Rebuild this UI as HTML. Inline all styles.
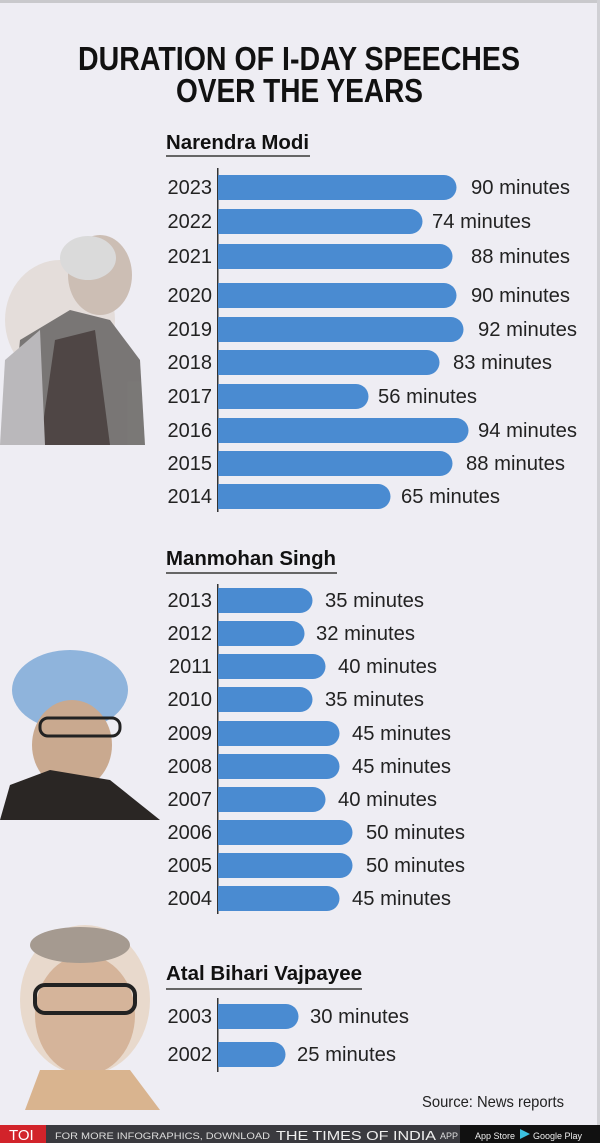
<!DOCTYPE html>
<html><head><meta charset="utf-8"><style>
html,body{margin:0;padding:0;background:#eeedf3}
svg{display:block}
text{font-family:"Liberation Sans Narrow","Liberation Sans",sans-serif}
</style></head><body>
<svg width="600" height="1143" viewBox="0 0 600 1143" xmlns="http://www.w3.org/2000/svg">
<rect width="600" height="1143" fill="#eeedf3"/>
<rect x="0" y="0" width="600" height="3" fill="#c9c9cc"/>
<rect x="597" y="0" width="3" height="1125" fill="#d0d0d4"/>
<text x="78" y="70" font-size="33" font-weight="bold" textLength="442" lengthAdjust="spacingAndGlyphs" fill="#111">DURATION OF I-DAY SPEECHES</text>
<text x="176" y="102" font-size="33" font-weight="bold" textLength="247" lengthAdjust="spacingAndGlyphs" fill="#111">OVER THE YEARS</text>

<g opacity="0.9">
<ellipse cx="60" cy="320" rx="55" ry="60" fill="#e3dcd8"/>
<ellipse cx="100" cy="275" rx="32" ry="40" fill="#c9b9ae"/>
<ellipse cx="88" cy="258" rx="28" ry="22" fill="#d8d8d8"/>
<path d="M10 445 L20 340 L70 310 L110 320 L140 360 L145 445 Z" fill="#6d6a68"/>
<path d="M40 445 L55 340 L95 330 L110 445 Z" fill="#3e3533"/>
<path d="M0 445 L5 360 L40 330 L45 445 Z" fill="#b5b3b5"/>
</g>
<g>
<ellipse cx="70" cy="690" rx="58" ry="40" fill="#8fb4dc"/>
<ellipse cx="72" cy="745" rx="40" ry="45" fill="#c9a98f"/>
<rect x="40" y="718" width="80" height="18" rx="8" fill="none" stroke="#222" stroke-width="3"/>
<path d="M0 820 L10 785 L50 770 L110 780 L160 820 Z" fill="#2a2624"/>
</g>
<g>
<ellipse cx="85" cy="1000" rx="65" ry="75" fill="#e8d9cc"/>
<ellipse cx="85" cy="1015" rx="50" ry="60" fill="#d5b49a"/>
<rect x="35" y="985" width="100" height="28" rx="10" fill="none" stroke="#222" stroke-width="4"/>
<path d="M25 1110 L40 1070 L130 1070 L160 1110 Z" fill="#d9b48f"/>
<ellipse cx="80" cy="945" rx="50" ry="18" fill="#a59a90"/>
</g>

<g font-size="20" fill="#222">
<text x="166" y="149" font-weight="bold" font-size="20" textLength="143" lengthAdjust="spacingAndGlyphs" fill="#111">Narendra Modi</text>
<rect x="166" y="155" width="144" height="2" fill="#666"/>
<rect x="217" y="168" width="1.5" height="344" fill="#333"/>
<g fill="#4a8bd1">
<path d="M218 175 H444 a12.5 12.5 0 0 1 0 25 H218 Z"/>
<path d="M218 209 H410 a12.5 12.5 0 0 1 0 25 H218 Z"/>
<path d="M218 244 H440 a12.5 12.5 0 0 1 0 25 H218 Z"/>
<path d="M218 283 H444 a12.5 12.5 0 0 1 0 25 H218 Z"/>
<path d="M218 317 H451 a12.5 12.5 0 0 1 0 25 H218 Z"/>
<path d="M218 350 H427 a12.5 12.5 0 0 1 0 25 H218 Z"/>
<path d="M218 384 H356 a12.5 12.5 0 0 1 0 25 H218 Z"/>
<path d="M218 418 H456 a12.5 12.5 0 0 1 0 25 H218 Z"/>
<path d="M218 451 H440 a12.5 12.5 0 0 1 0 25 H218 Z"/>
<path d="M218 484 H378 a12.5 12.5 0 0 1 0 25 H218 Z"/>
</g>
<g text-anchor="end">
<text x="212" y="194">2023</text><text x="212" y="228">2022</text><text x="212" y="263">2021</text>
<text x="212" y="302">2020</text><text x="212" y="336">2019</text><text x="212" y="369">2018</text>
<text x="212" y="403">2017</text><text x="212" y="437">2016</text><text x="212" y="470">2015</text>
<text x="212" y="503">2014</text>
</g>
<g textLength="99" lengthAdjust="spacingAndGlyphs">
<text x="471" y="194" textLength="99" lengthAdjust="spacingAndGlyphs">90 minutes</text>
<text x="432" y="228" textLength="99" lengthAdjust="spacingAndGlyphs">74 minutes</text>
<text x="471" y="263" textLength="99" lengthAdjust="spacingAndGlyphs">88 minutes</text>
<text x="471" y="302" textLength="99" lengthAdjust="spacingAndGlyphs">90 minutes</text>
<text x="478" y="336" textLength="99" lengthAdjust="spacingAndGlyphs">92 minutes</text>
<text x="453" y="369" textLength="99" lengthAdjust="spacingAndGlyphs">83 minutes</text>
<text x="378" y="403" textLength="99" lengthAdjust="spacingAndGlyphs">56 minutes</text>
<text x="478" y="437" textLength="99" lengthAdjust="spacingAndGlyphs">94 minutes</text>
<text x="466" y="470" textLength="99" lengthAdjust="spacingAndGlyphs">88 minutes</text>
<text x="401" y="503" textLength="99" lengthAdjust="spacingAndGlyphs">65 minutes</text>
</g>

<text x="166" y="565" font-weight="bold" font-size="20" textLength="170" lengthAdjust="spacingAndGlyphs" fill="#111">Manmohan Singh</text>
<rect x="166" y="572" width="171" height="2" fill="#666"/>
<rect x="217" y="584" width="1.5" height="330" fill="#333"/>
<g fill="#4a8bd1">
<path d="M218 588 H300 a12.5 12.5 0 0 1 0 25 H218 Z"/>
<path d="M218 621 H292 a12.5 12.5 0 0 1 0 25 H218 Z"/>
<path d="M218 654 H313 a12.5 12.5 0 0 1 0 25 H218 Z"/>
<path d="M218 687 H300 a12.5 12.5 0 0 1 0 25 H218 Z"/>
<path d="M218 721 H327 a12.5 12.5 0 0 1 0 25 H218 Z"/>
<path d="M218 754 H327 a12.5 12.5 0 0 1 0 25 H218 Z"/>
<path d="M218 787 H313 a12.5 12.5 0 0 1 0 25 H218 Z"/>
<path d="M218 820 H340 a12.5 12.5 0 0 1 0 25 H218 Z"/>
<path d="M218 853 H340 a12.5 12.5 0 0 1 0 25 H218 Z"/>
<path d="M218 886 H327 a12.5 12.5 0 0 1 0 25 H218 Z"/>
</g>
<g text-anchor="end">
<text x="212" y="607">2013</text><text x="212" y="640">2012</text><text x="212" y="673">2011</text>
<text x="212" y="706">2010</text><text x="212" y="740">2009</text><text x="212" y="773">2008</text>
<text x="212" y="806">2007</text><text x="212" y="839">2006</text><text x="212" y="872">2005</text>
<text x="212" y="905">2004</text>
</g>
<text x="325" y="607" textLength="99" lengthAdjust="spacingAndGlyphs">35 minutes</text>
<text x="316" y="640" textLength="99" lengthAdjust="spacingAndGlyphs">32 minutes</text>
<text x="338" y="673" textLength="99" lengthAdjust="spacingAndGlyphs">40 minutes</text>
<text x="325" y="706" textLength="99" lengthAdjust="spacingAndGlyphs">35 minutes</text>
<text x="352" y="740" textLength="99" lengthAdjust="spacingAndGlyphs">45 minutes</text>
<text x="352" y="773" textLength="99" lengthAdjust="spacingAndGlyphs">45 minutes</text>
<text x="338" y="806" textLength="99" lengthAdjust="spacingAndGlyphs">40 minutes</text>
<text x="366" y="839" textLength="99" lengthAdjust="spacingAndGlyphs">50 minutes</text>
<text x="366" y="872" textLength="99" lengthAdjust="spacingAndGlyphs">50 minutes</text>
<text x="352" y="905" textLength="99" lengthAdjust="spacingAndGlyphs">45 minutes</text>

<text x="166" y="980" font-weight="bold" font-size="20" textLength="196" lengthAdjust="spacingAndGlyphs" fill="#111">Atal Bihari Vajpayee</text>
<rect x="166" y="988" width="196" height="2" fill="#666"/>
<rect x="217" y="998" width="1.5" height="74" fill="#333"/>
<g fill="#4a8bd1">
<path d="M218 1004 H286 a12.5 12.5 0 0 1 0 25 H218 Z"/>
<path d="M218 1042 H273 a12.5 12.5 0 0 1 0 25 H218 Z"/>
</g>
<g text-anchor="end">
<text x="212" y="1023">2003</text><text x="212" y="1061">2002</text>
</g>
<text x="310" y="1023" textLength="99" lengthAdjust="spacingAndGlyphs">30 minutes</text>
<text x="297" y="1061" textLength="99" lengthAdjust="spacingAndGlyphs">25 minutes</text>

<text x="422" y="1107" font-size="16" textLength="142" lengthAdjust="spacingAndGlyphs">Source: News reports</text>
</g>

<rect x="0" y="1125" width="600" height="18" fill="#3a3a3f"/>
<rect x="0" y="1125" width="46" height="18" fill="#d2232a"/>
<text x="9" y="1140" font-family="Liberation Serif,serif" font-size="15" fill="#fff">TOI</text>
<text x="55" y="1139" font-size="9" fill="#ddd" textLength="215" lengthAdjust="spacingAndGlyphs">FOR MORE INFOGRAPHICS, DOWNLOAD</text>
<text x="276" y="1140" font-family="Liberation Serif,serif" font-size="13" fill="#eee" textLength="160" lengthAdjust="spacingAndGlyphs">THE TIMES OF INDIA</text>
<text x="440" y="1139" font-size="9" fill="#ddd">APP</text>
<rect x="460" y="1125" width="140" height="18" fill="#111"/>
<text x="475" y="1139" font-size="9" fill="#eee">App Store</text>
<path d="M520 1129 L530 1134 L520 1139 Z" fill="#3bc1e0"/>
<text x="533" y="1139" font-size="9" fill="#eee">Google Play</text>
</svg>
</body></html>
